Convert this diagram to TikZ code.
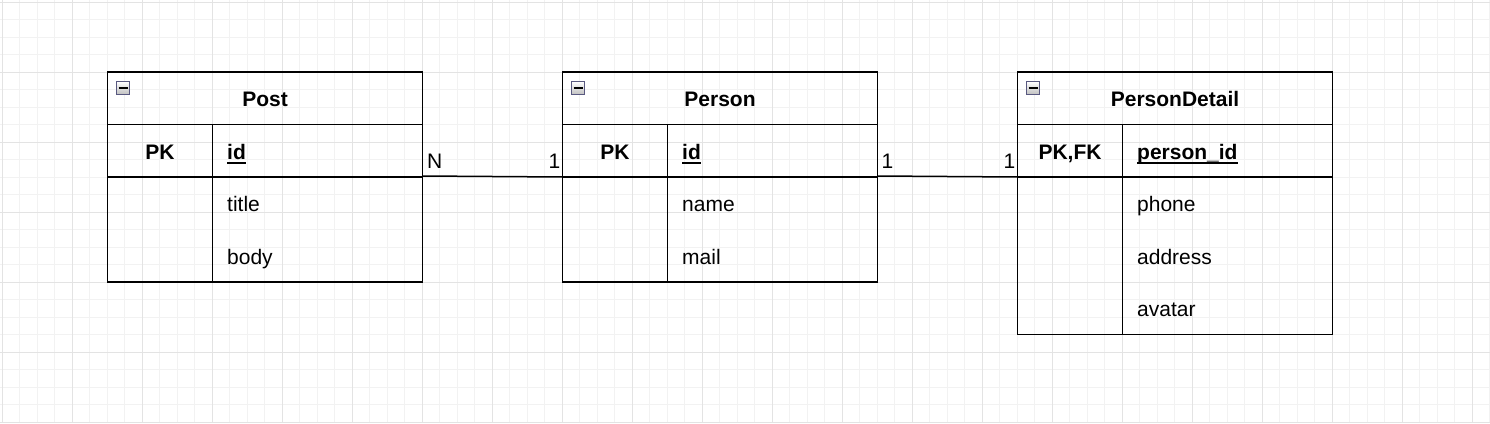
\documentclass[tikz,border=0pt]{standalone}
\usepackage{fontspec}
\setmainfont{Liberation Sans}
\newcommand\erfont{\fontsize{21}{25}\selectfont}
\begin{document}
\begin{tikzpicture}[x=1pt,y=-1pt,
  minorgrid/.style={draw=black!5, line width=1pt},
  majorgrid/.style={draw=black!11, line width=1pt},
  cell/.style={draw=black, line width=1.8pt, rectangle, inner sep=0pt, outer sep=0pt, minimum width=315pt, anchor=north west},
  hdr/.style={cell, minimum height=52.5pt},
  pkrow/.style={cell, minimum height=52.5pt},
  divider/.style={draw=black, line width=1.8pt},
  thickbit/.style={draw=black, line width=2.8pt},
  ttl/.style={font=\erfont\bfseries, inner sep=0pt, anchor=base},
  pklbl/.style={font=\erfont\bfseries, inner sep=0pt, anchor=base},
  keyfld/.style={font=\erfont\bfseries, inner sep=0pt, anchor=base west},
  fld/.style={font=\erfont, inner sep=0pt, anchor=base west},
  ulin/.style={draw=black, line width=1.9pt},
  conn/.style={draw=black, line width=1.5pt},
  lbl/.style={font=\erfont, inner sep=0pt},
  icon/.style={draw=black!50!blue!30!gray, line width=1pt, top color=white, bottom color=black!25, minimum width=13pt, minimum height=13pt, inner sep=0pt, rectangle},
  minus/.style={draw=black, line width=2pt}
]
\useasboundingbox (0,0) rectangle (1490,423);
\fill[white] (0,0) rectangle (1490,423);
% grid
\foreach \x in {2,19.5,...,1490} \draw[minorgrid] (\x,0) -- (\x,423);
\foreach \y in {2,19.5,...,423} \draw[minorgrid] (0,\y) -- (1490,\y);
\foreach \x in {2,72,...,1490} \draw[majorgrid] (\x,0) -- (\x,423);
\foreach \y in {2,72,...,423} \draw[majorgrid] (0,\y) -- (1490,\y);

% ---------- Post ----------
\node[hdr] (post) at (107.5,72) {};
\node[pkrow] (postpk) at (107.5,124.5) {};
\node[cell, minimum height=105pt] (postbody) at (107.5,177) {};
\draw[divider] ([xshift=105pt]postpk.north west) -- ([xshift=105pt]postbody.south west);
\draw[thickbit] (postpk.south west) -- ([xshift=20pt]postpk.south west);
\draw[thickbit] ([xshift=-20pt]postpk.south east) -- (postpk.south east);
\node[icon] (posticon) at ([xshift=15.5pt,yshift=-16pt]post.north west) {};
\draw[minus] ([xshift=-4.5pt]posticon.center) -- ([xshift=4.5pt]posticon.center);
\node[ttl] (posttitle) at ([yshift=-8.5pt]post.center) {Post};
\node[pklbl] (postpkl) at ([xshift=52.5pt,yshift=-8.5pt]postpk.west) {PK};
\node[keyfld] (postid) at ([xshift=119.5pt,yshift=-8.5pt]postpk.west) {id};
\draw[ulin] ([yshift=-3.5pt]postid.base west) -- ([yshift=-3.5pt]postid.base east);
\node[fld] (posttitlef) at ([xshift=119.5pt,yshift=-34.75pt]postbody.north west) {title};
\node[fld] (postbodyf) at ([xshift=119.5pt,yshift=-87.25pt]postbody.north west) {body};

% ---------- Person ----------
\node[hdr] (person) at (562.5,72) {};
\node[pkrow] (personpk) at (562.5,124.5) {};
\node[cell, minimum height=105pt] (personbody) at (562.5,177) {};
\draw[divider] ([xshift=105pt]personpk.north west) -- ([xshift=105pt]personbody.south west);
\draw[thickbit] (personpk.south west) -- ([xshift=20pt]personpk.south west);
\draw[thickbit] ([xshift=-20pt]personpk.south east) -- (personpk.south east);
\node[icon] (personicon) at ([xshift=15.5pt,yshift=-16pt]person.north west) {};
\draw[minus] ([xshift=-4.5pt]personicon.center) -- ([xshift=4.5pt]personicon.center);
\node[ttl] (persontitle) at ([yshift=-8.5pt]person.center) {Person};
\node[pklbl] (personpkl) at ([xshift=52.5pt,yshift=-8.5pt]personpk.west) {PK};
\node[keyfld] (personid) at ([xshift=119.5pt,yshift=-8.5pt]personpk.west) {id};
\draw[ulin] ([yshift=-3.5pt]personid.base west) -- ([yshift=-3.5pt]personid.base east);
\node[fld] (personname) at ([xshift=119.5pt,yshift=-34.75pt]personbody.north west) {name};
\node[fld] (personmail) at ([xshift=119.5pt,yshift=-87.25pt]personbody.north west) {mail};

% ---------- PersonDetail ----------
\node[hdr] (detail) at (1017.5,72) {};
\node[pkrow] (detailpk) at (1017.5,124.5) {};
\node[cell, minimum height=157.5pt] (detailbody) at (1017.5,177) {};
\draw[divider] ([xshift=105pt]detailpk.north west) -- ([xshift=105pt]detailbody.south west);
\draw[thickbit] (detailpk.south west) -- ([xshift=20pt]detailpk.south west);
\draw[thickbit] ([xshift=-20pt]detailpk.south east) -- (detailpk.south east);
\node[icon] (detailicon) at ([xshift=15.5pt,yshift=-16pt]detail.north west) {};
\draw[minus] ([xshift=-4.5pt]detailicon.center) -- ([xshift=4.5pt]detailicon.center);
\node[ttl] (detailtitle) at ([yshift=-8.5pt]detail.center) {PersonDetail};
\node[pklbl] (detailpkl) at ([xshift=52.5pt,yshift=-8.5pt]detailpk.west) {PK,FK};
\node[keyfld] (detailid) at ([xshift=119.5pt,yshift=-8.5pt]detailpk.west) {person\_id};
\draw[ulin] ([yshift=-3.5pt]detailid.base west) -- ([yshift=-3.5pt]detailid.base east);
\node[fld] (detailphone) at ([xshift=119.5pt,yshift=-34.75pt]detailbody.north west) {phone};
\node[fld] (detailaddr) at ([xshift=119.5pt,yshift=-87.25pt]detailbody.north west) {address};
\node[fld] (detailavatar) at ([xshift=119.5pt,yshift=-139.75pt]detailbody.north west) {avatar};

% ---------- connectors ----------
\draw[conn] ([yshift=1pt]postpk.south east) -- (personpk.south west);
\draw[conn] ([yshift=1pt]personpk.south east) -- (detailpk.south west);
\node[lbl, anchor=base west] (c1a) at ([xshift=4.5pt,yshift=9pt]postpk.south east) {N};
\node[lbl, anchor=base east] (c1b) at ([xshift=-2pt,yshift=9pt]personpk.south west) {1};
\node[lbl, anchor=base west] (c2a) at ([xshift=4pt,yshift=9pt]personpk.south east) {1};
\node[lbl, anchor=base east] (c2b) at ([xshift=-2pt,yshift=9pt]detailpk.south west) {1};
\end{tikzpicture}
\end{document}
